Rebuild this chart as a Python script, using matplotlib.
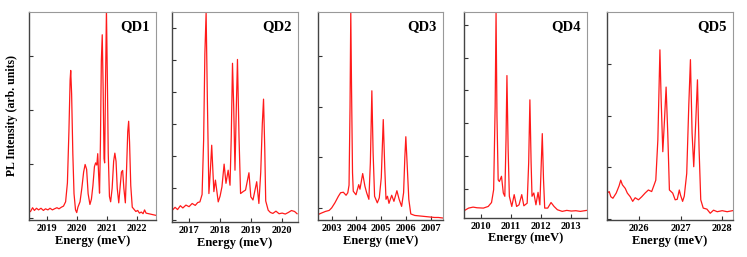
import matplotlib

matplotlib.use("Agg")

import matplotlib.pyplot as plt

plt.rcParams["font.family"] = ["Liberation Serif", "DejaVu Serif"]
plt.rcParams["font.weight"] = "bold"

LINE_COLOR = "#ff1a1a"

# spectra (energy in meV, intensity in arb. units)
QD1_E = [2018.45, 2018.52, 2018.58, 2018.65, 2018.72, 2018.80, 2018.88, 2018.95, 2019.03, 2019.10,
         2019.18, 2019.25, 2019.33, 2019.40, 2019.48, 2019.55, 2019.62, 2019.68, 2019.73, 2019.77,
         2019.79, 2019.82, 2019.86, 2019.90, 2019.95, 2019.99, 2020.03, 2020.10, 2020.16, 2020.22,
         2020.27, 2020.32, 2020.37, 2020.43, 2020.48, 2020.53, 2020.58, 2020.62, 2020.66, 2020.69,
         2020.72, 2020.75, 2020.78, 2020.81, 2020.84, 2020.87, 2020.90, 2020.92, 2020.95, 2020.98,
         2021.01, 2021.04, 2021.08, 2021.12, 2021.17, 2021.22, 2021.26, 2021.30, 2021.34, 2021.39,
         2021.44, 2021.48, 2021.52, 2021.56, 2021.61, 2021.65, 2021.69, 2021.72, 2021.75, 2021.79,
         2021.84, 2021.90, 2021.96, 2022.02, 2022.08, 2022.14, 2022.20, 2022.25, 2022.30, 2022.38,
         2022.46, 2022.54, 2022.62]
QD1_I = [0.12, 0.19, 0.14, 0.18, 0.15, 0.18, 0.14, 0.17, 0.15, 0.18,
         0.15, 0.17, 0.19, 0.17, 0.20, 0.22, 0.30, 0.65, 1.60, 2.55,
         2.73, 2.30, 1.20, 0.45, 0.15, 0.10, 0.20, 0.30, 0.55, 0.85,
         0.99, 0.90, 0.45, 0.25, 0.35, 0.60, 0.95, 1.02, 0.98, 1.19,
         0.80, 0.46, 1.40, 2.90, 3.39, 2.40, 1.10, 1.02, 2.50, 3.85,
         2.60, 1.20, 0.40, 0.30, 0.55, 1.05, 1.20, 1.05, 0.55, 0.28,
         0.60, 0.85, 0.88, 0.55, 0.28, 0.90, 1.60, 1.79, 1.40, 0.60,
         0.20, 0.16, 0.12, 0.14, 0.09, 0.11, 0.08, 0.15, 0.09, 0.08,
         0.07, 0.06, 0.05]

QD2_E = [2016.46, 2016.55, 2016.63, 2016.72, 2016.80, 2016.90, 2017.00, 2017.10, 2017.20, 2017.28,
         2017.35, 2017.42, 2017.47, 2017.51, 2017.55, 2017.59, 2017.64, 2017.69, 2017.73, 2017.77,
         2017.80, 2017.85, 2017.89, 2017.94, 2018.00, 2018.06, 2018.13, 2018.19, 2018.26, 2018.32,
         2018.36, 2018.40, 2018.44, 2018.48, 2018.52, 2018.56, 2018.61, 2018.66, 2018.74, 2018.82,
         2018.93, 2018.99, 2019.06, 2019.18, 2019.25, 2019.31, 2019.36, 2019.40, 2019.44, 2019.47,
         2019.55, 2019.62, 2019.70, 2019.80, 2019.90, 2020.00, 2020.10, 2020.20, 2020.30, 2020.40,
         2020.48]
QD2_I = [0.31, 0.40, 0.33, 0.45, 0.38, 0.47, 0.42, 0.52, 0.46, 0.55,
         0.57, 0.80, 2.50, 5.20, 6.48, 3.80, 0.83, 1.60, 2.34, 1.50,
         0.89, 1.25, 0.95, 0.57, 0.75, 1.04, 1.75, 1.15, 1.56, 1.09,
         2.60, 4.90, 3.50, 1.56, 3.40, 5.02, 2.60, 0.83, 0.89, 0.94,
         1.48, 0.73, 0.63, 1.20, 0.52, 1.50, 3.00, 3.78, 2.20, 0.60,
         0.31, 0.24, 0.21, 0.28, 0.20, 0.22, 0.19, 0.24, 0.30, 0.27,
         0.20]

QD3_E = [2002.46, 2002.60, 2002.75, 2002.90, 2003.00, 2003.13, 2003.27, 2003.36, 2003.47, 2003.58,
         2003.65, 2003.70, 2003.74, 2003.77, 2003.80, 2003.84, 2003.87, 2003.98, 2004.09, 2004.14,
         2004.25, 2004.34, 2004.41, 2004.50, 2004.56, 2004.62, 2004.67, 2004.73, 2004.84, 2004.92,
         2005.00, 2005.08, 2005.14, 2005.19, 2005.25, 2005.31, 2005.42, 2005.51, 2005.63, 2005.72,
         2005.82, 2005.90, 2005.95, 2005.99, 2006.04, 2006.11, 2006.19, 2006.35, 2006.55, 2006.75,
         2006.95, 2007.15, 2007.30, 2007.47]
QD3_I = [-0.13, -0.10, -0.07, -0.05, 0.00, 0.10, 0.23, 0.30, 0.31, 0.25,
         0.30, 0.45, 2.00, 3.89, 2.40, 0.70, 0.33, 0.26, 0.46, 0.37,
         0.68, 0.43, 0.30, 0.17, 0.90, 2.32, 1.10, 0.23, 0.10, 0.20,
         0.60, 1.75, 0.80, 0.17, 0.23, 0.09, 0.25, 0.13, 0.34, 0.17,
         0.03, 0.30, 1.00, 1.41, 0.90, 0.17, -0.12, -0.15, -0.16, -0.17,
         -0.18, -0.19, -0.19, -0.20]

QD4_E = [2009.47, 2009.60, 2009.75, 2009.88, 2010.09, 2010.25, 2010.36, 2010.43, 2010.48, 2010.51,
         2010.54, 2010.58, 2010.62, 2010.69, 2010.75, 2010.80, 2010.84, 2010.87, 2010.91, 2010.95,
         2011.03, 2011.11, 2011.19, 2011.27, 2011.36, 2011.43, 2011.54, 2011.59, 2011.63, 2011.67,
         2011.70, 2011.76, 2011.83, 2011.90, 2011.96, 2012.00, 2012.04, 2012.08, 2012.12, 2012.22,
         2012.33, 2012.43, 2012.54, 2012.70, 2012.85, 2013.00, 2013.15, 2013.30, 2013.51]
QD4_I = [0.34, 0.41, 0.44, 0.42, 0.41, 0.46, 0.58, 0.97, 3.50, 6.38,
         3.20, 1.27, 1.22, 1.38, 0.87, 0.77, 2.50, 4.45, 2.20, 0.77,
         0.46, 0.82, 0.46, 0.51, 0.82, 0.48, 0.56, 1.80, 3.71, 1.80,
         0.77, 0.87, 0.51, 0.89, 0.51, 1.60, 2.68, 1.30, 0.41, 0.41,
         0.58, 0.46, 0.36, 0.31, 0.34, 0.32, 0.33, 0.31, 0.34]

QD5_E = [2025.22, 2025.27, 2025.31, 2025.36, 2025.44, 2025.51, 2025.55, 2025.59, 2025.66, 2025.71,
         2025.78, 2025.84, 2025.90, 2025.98, 2026.06, 2026.14, 2026.22, 2026.30, 2026.36, 2026.40,
         2026.45, 2026.50, 2026.53, 2026.57, 2026.61, 2026.65, 2026.69, 2026.73, 2026.81, 2026.87,
         2026.92, 2026.97, 2027.00, 2027.05, 2027.09, 2027.15, 2027.20, 2027.24, 2027.28, 2027.32,
         2027.37, 2027.41, 2027.45, 2027.49, 2027.55, 2027.64, 2027.72, 2027.80, 2027.89, 2028.01,
         2028.13, 2028.26]
QD5_I = [0.50, 0.53, 0.43, 0.40, 0.50, 0.64, 0.75, 0.66, 0.59, 0.50,
         0.43, 0.34, 0.41, 0.37, 0.43, 0.50, 0.56, 0.53, 0.66, 0.75,
         1.53, 3.27, 2.30, 1.30, 1.90, 2.55, 1.66, 0.56, 0.50, 0.37,
         0.38, 0.56, 0.46, 0.34, 0.44, 0.88, 2.20, 3.08, 1.66, 1.01,
         1.90, 2.69, 1.34, 0.37, 0.21, 0.19, 0.11, 0.17, 0.14, 0.16,
         0.14, 0.16]

PANELS = [
    ("QD1", QD1_E, QD1_I, (2018.4, 2022.63), (-0.037, 3.81), [2019, 2020, 2021, 2022], [0, 1, 2, 3]),
    ("QD2", QD2_E, QD2_I, (2016.44, 2020.5), (-0.06, 6.5), [2017, 2018, 2019, 2020], [0, 1, 2, 3, 4, 5, 6]),
    ("QD3", QD3_E, QD3_I, (2002.46, 2007.5), (-0.24, 3.88), [2003, 2004, 2005, 2006, 2007], [0, 1, 2, 3]),
    ("QD4", QD4_E, QD4_I, (2009.45, 2013.53), (0.11, 6.39), [2010, 2011, 2012, 2013], [1, 2, 3, 4, 5, 6]),
    ("QD5", QD5_E, QD5_I, (2025.21, 2028.28), (-0.02, 4.0), [2026, 2027, 2028], [0, 1, 2, 3]),
]

# axes boxes in figure fractions (left, bottom, width, height)
BOXES = [
    (0.0388, 0.144, 0.170, 0.809),
    (0.2298, 0.136, 0.1687, 0.817),
    (0.4261, 0.144, 0.1673, 0.809),
    (0.6212, 0.152, 0.1650, 0.8016),
    (0.8122, 0.144, 0.1695, 0.809),
]

fig = plt.figure(figsize=(7.47, 2.57), dpi=100)
fig.patch.set_facecolor("white")

for (name, xs, ys, xlim, ylim, xticks, yticks), box in zip(PANELS, BOXES):
    ax = fig.add_axes(box)
    ax.plot(xs, ys, color=LINE_COLOR, lw=0.9)
    ax.set_xlim(*xlim)
    ax.set_ylim(*ylim)
    ax.set_xticks(xticks)
    ax.set_xticklabels([str(t) for t in xticks], fontsize=7.5, fontweight="bold")
    ax.set_yticks(yticks)
    ax.set_yticklabels([])
    ax.tick_params(direction="in", length=3, width=0.8, colors="#333333", pad=3)
    ax.tick_params(axis="x", labelcolor="black")
    for side in ("left", "bottom"):
        ax.spines[side].set_color("#444444")
        ax.spines[side].set_linewidth(1.0)
    for side in ("top", "right"):
        ax.spines[side].set_color("#999999")
        ax.spines[side].set_linewidth(0.8)
    ax.set_xlabel("Energy (meV)", fontsize=9, fontweight="bold", labelpad=1)
    ax.text(0.95, 0.93, name, transform=ax.transAxes, ha="right", va="center",
            fontsize=10.5, fontweight="bold")

fig.text(0.016, 0.55, "PL Intensity (arb. units)", rotation=90, ha="center", va="center",
         fontsize=8.5, fontweight="bold")

fig.savefig("out.png", dpi=100)
